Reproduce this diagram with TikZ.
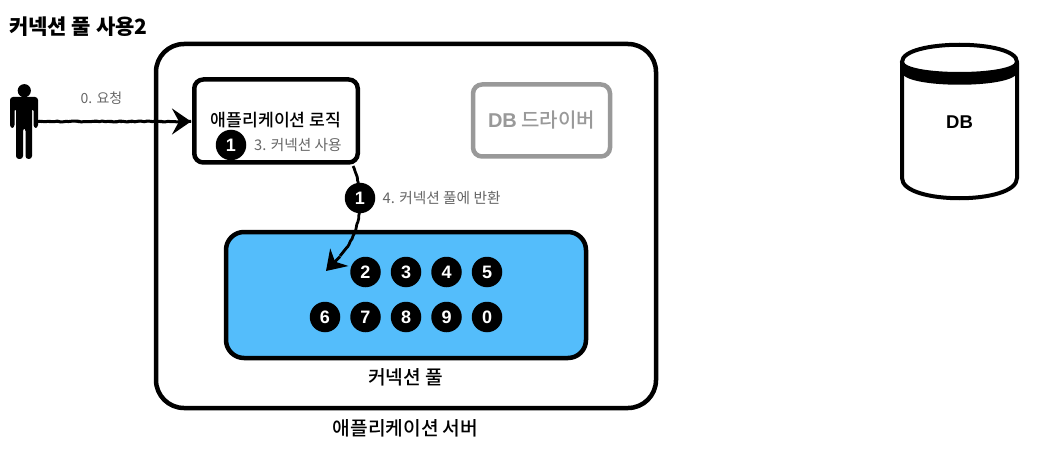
\documentclass[tikz,border=0pt]{standalone}
\usepackage{fontspec}
\setmainfont{Noto Sans CJK KR}
\newfontfamily\medf{Noto Sans CJK KR Medium}
\newfontfamily\latinf{Liberation Sans}
\usetikzlibrary{arrows.meta,decorations.pathmorphing}
\definecolor{poolblue}{HTML}{54BDFB}
\definecolor{labelgrey}{HTML}{666666}
\definecolor{drvgrey}{HTML}{999999}
\tikzset{
  x=1pt,y=-1pt,
  box/.style={draw=black,line width=4.5pt,rounded corners=#1,fill=white},
  box/.default=9pt,
  badge/.style={circle,fill=black,text=white,minimum size=30.5pt,inner sep=0pt,font=\latinf\fontsize{18}{18}\selectfont\bfseries},
  note/.style={text=labelgrey,font=\fontsize{14.7}{16}\selectfont,inner sep=0pt},
  title/.style={font=\medf\fontsize{21}{24}\selectfont\bfseries,inner sep=0pt},
  sketch/.style={draw=black,line width=3pt,decorate,decoration={random steps,segment length=3pt,amplitude=.5pt,post length=10pt}},
  sketchtip/.style={-{Stealth[length=19pt,width=26pt,inset=7pt]},draw=black,line width=2.8pt},
}
\begin{document}
\begin{tikzpicture}
\useasboundingbox (0,0) rectangle (1038,449);
\node[title,anchor=west] (ttl) at (9,27) {커넥션 풀 사용2};

% server
\draw[line width=4.5pt,rounded corners=28pt,fill=white] (156,44) rectangle (656,408);
\coordinate (srvlabel) at (405.5,428);
\node[font=\medf\fontsize{19.2}{22}\selectfont,inner sep=0pt] (srv) at (srvlabel) {애플리케이션 서버};

% app logic
\node[box,minimum width=163.5pt,minimum height=83pt,inner sep=0pt] (app) at (276,121) {};
\node[font=\medf\fontsize{17.2}{20}\selectfont,inner sep=0pt] (applabel) at (276,120) {애플리케이션 로직};
\node[badge] (b1) at (231,145) {1};
\node[note,anchor=west] (n3) at (254,144.5) {3. 커넥션 사용};

% driver
\node[draw=drvgrey,line width=4.5pt,rounded corners=9pt,minimum width=137pt,minimum height=72pt,inner sep=0pt,text=drvgrey,font=\fontsize{20}{23}\selectfont] (drv) at (541.5,120.5) {{\latinf\bfseries DB} {\medf 드라이버}};

% pool
\draw[line width=4.5pt,rounded corners=18pt,fill=poolblue] (226,232) rectangle (586,358);
\coordinate (poolc) at (406,295);
\node[font=\medf\fontsize{19.2}{22}\selectfont,inner sep=0pt] (poollabel) at (405.5,377) {커넥션 풀};
\foreach \n/\cx in {2/365.5,3/406,4/446.5,5/487}{\node[badge] (p\n) at (\cx,272) {\n};}
\foreach \n/\cx in {6/325,7/365.5,8/406,9/446.5,0/487}{\node[badge] (p\n) at (\cx,317) {\n};}

% person
\fill (24.3,90.7) circle (6.6);
\fill[rounded corners=3pt] (10,97) -- (38,97) -- (38,128) -- (33.5,128) -- (33.5,108) -- (32,108) -- (32,159) -- (25.5,159) -- (25.5,128) -- (23,128) -- (23,159) -- (16,159) -- (16,108) -- (14.5,108) -- (14.5,128) -- (10,128) -- cycle;
\coordinate (person) at (36,121.5);

% request arrow
\coordinate (appW) at (191,121.5);
\draw[sketch] (person) -- (appW);
\draw[sketch,line width=1.4pt,decoration={random steps,segment length=2pt,amplitude=1pt,post length=10pt}] (person) -- (appW);
\draw[sketchtip] (180,121.5) -- (appW);
\node[note,font=\fontsize{14}{16}\selectfont] (n0) at (101.5,98.5) {0. 요청};

% return arrow
\coordinate (appS) at (353,166);
\coordinate (poolIn) at (326,271);
\draw[sketch,line width=2.8pt,decoration={random steps,segment length=3pt,amplitude=.4pt}] (appS) .. controls (364,190) and (364,230) .. (340,256);
\draw[-{Stealth[length=19pt,width=25pt,inset=6pt]},line width=2.8pt] (340,256.5) -- (poolIn);
\node[badge] (b2) at (360,198) {1};
\node[note,anchor=west] (n4) at (382.5,197.5) {4. 커넥션 풀에 반환};

% DB
\draw[line width=4pt,fill=white] (902,63) -- (902,178) .. controls (902,205) and (1017,205) .. (1017,178) -- (1017,63);
\fill[black] (900,63) -- (1019,63) -- (1017,72) .. controls (1017,89) and (902,89) .. (902,72) -- cycle;
\draw[line width=4pt,fill=white] (902,62) .. controls (902,39) and (1017,39) .. (1017,62) .. controls (1017,78) and (902,78) .. (902,62) -- cycle;
\node[font=\latinf\fontsize{18.5}{20}\selectfont\bfseries,inner sep=0pt] (db) at (959.5,122.5) {DB};
\end{tikzpicture}
\end{document}
